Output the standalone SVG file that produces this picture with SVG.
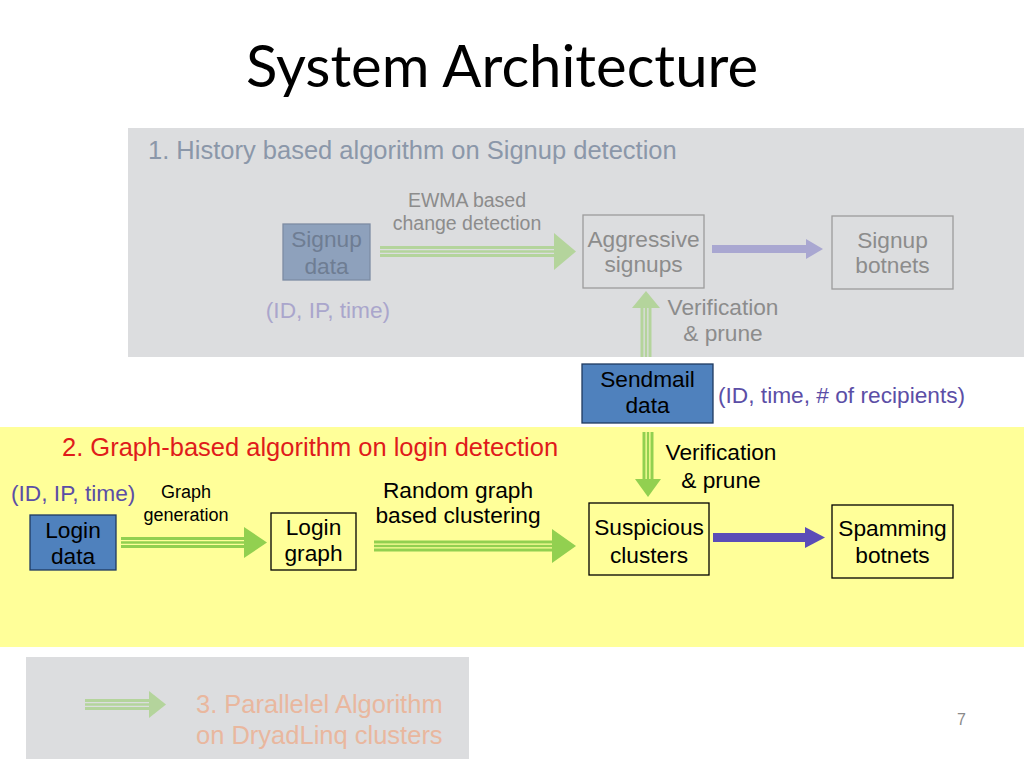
<svg xmlns="http://www.w3.org/2000/svg" width="1024" height="768" viewBox="0 0 1024 768">
<style>
text{font-family:"Liberation Sans",Arial,sans-serif;}
.t22{font-size:22.7px;}
.t25{font-size:25.5px;}
.t19{font-size:19.5px;}
.mid{text-anchor:middle;}
.fg{fill:#8c8c8c;}
.blk{fill:#000;}
.pur{fill:#5b4ea6;}
.box{fill:none;stroke:#000;stroke-width:1.3;}
.gbox{fill:none;stroke:#9c9c9c;stroke-width:1.3;}
.dbox{fill:#4f81bd;stroke:#1f3a60;stroke-width:1.3;}
.gl{stroke:#92d050;}
.gl line{stroke-width:3;}
.gl line.m{stroke-width:2.4;}
.gh{fill:#92d050;}
.fl{stroke:#b4d49c;}
.fl line{stroke-width:3;}
.fl line.m{stroke-width:2.4;}
.fh{fill:#b4d49c;}
</style>
<rect width="1024" height="768" fill="#fff"/>
<text x="502" y="87" class="mid" style="font-family:Lato,'Open Sans',sans-serif;font-size:58px;" fill="#000">System Architecture</text>

<g id="section1">
<rect x="128" y="128" width="896" height="229" fill="#dcdddf"/>
<text x="148" y="159" class="t25" fill="#8b97a9">1. History based algorithm on Signup detection</text>
</g>
<g id="section2">
<rect x="0" y="427" width="1024" height="220" fill="#ffff99"/>
<text x="62" y="456" class="t25" fill="#e01b1b">2. Graph-based algorithm on login detection</text>
</g>
<g id="section3">
<rect x="26" y="657" width="443" height="102" fill="#dcdddf"/>
<text x="196" y="713" class="t25" fill="#e9b79e">3. Parallelel Algorithm</text>
<text x="196" y="744" class="t25" fill="#e9b79e">on DryadLinq clusters</text>
</g>

<g id="connectors">
<g class="fl"><line x1="380" y1="247.5" x2="556" y2="247.5"/><line class="m" x1="380" y1="251.5" x2="556" y2="251.5"/><line x1="380" y1="255.5" x2="556" y2="255.5"/></g>
<polygon class="fh" points="554,233 576,251.5 554,270"/>
<rect x="712" y="245" width="96" height="8" fill="#a9a7d1"/>
<polygon points="806,239 823,249 806,259" fill="#a9a7d1"/>
<g class="fl"><line x1="642" y1="306" x2="642" y2="357"/><line class="m" x1="646" y1="306" x2="646" y2="357"/><line x1="650" y1="306" x2="650" y2="357"/></g>
<polygon class="fh" points="632,308 646,291 660,308"/>
<g class="gl"><line x1="644" y1="432" x2="644" y2="481"/><line class="m" x1="648" y1="432" x2="648" y2="481"/><line x1="652" y1="432" x2="652" y2="481"/></g>
<polygon class="gh" points="635,479 661,479 648,497"/>
<g class="gl"><line x1="121" y1="538.5" x2="246" y2="538.5"/><line class="m" x1="121" y1="542.5" x2="246" y2="542.5"/><line x1="121" y1="546.5" x2="246" y2="546.5"/></g>
<polygon class="gh" points="244,527 267,542.5 244,558"/>
<g class="gl"><line x1="374" y1="542" x2="554" y2="542"/><line class="m" x1="374" y1="546" x2="554" y2="546"/><line x1="374" y1="550" x2="554" y2="550"/></g>
<polygon class="gh" points="552,529 576,546 552,563"/>
<rect x="713" y="533" width="94" height="9" fill="#5b4db7"/>
<polygon points="805,527 825,537.5 805,548" fill="#5b4db7"/>
<g class="fl"><line x1="85" y1="700.5" x2="151" y2="700.5"/><line class="m" x1="85" y1="704.5" x2="151" y2="704.5"/><line x1="85" y1="708.5" x2="151" y2="708.5"/></g>
<polygon class="fh" points="149,691 166,704.5 149,718"/>
</g>

<g id="label-ewma">
<text x="467" y="207" class="t19 mid fg">EWMA based</text>
<text x="467" y="230" class="t19 mid fg">change detection</text>
</g>
<g id="label-verif1">
<text x="723" y="315" class="t22 mid fg">Verification</text>
<text x="723" y="341" class="t22 mid fg">&amp; prune</text>
</g>
<g id="label-signup-attrs">
<text x="328" y="318" class="t22 mid" fill="#aaa6cc">(ID, IP, time)</text>
</g>

<g id="node-signup-data">
<rect x="283" y="224" width="87" height="56" fill="#8ea1bc" stroke="#7d8ca3" stroke-width="1.3"/>
<text x="326.5" y="247" class="t22 mid" fill="#6e7d93">Signup</text>
<text x="326.5" y="274" class="t22 mid" fill="#6e7d93">data</text>
</g>
<g id="node-aggressive">
<rect x="583" y="215" width="121" height="73" class="gbox"/>
<text x="643.5" y="247" class="t22 mid fg">Aggressive</text>
<text x="643.5" y="272" class="t22 mid fg">signups</text>
</g>
<g id="node-signup-botnets">
<rect x="832" y="216" width="121" height="73" class="gbox"/>
<text x="892.5" y="248" class="t22 mid fg">Signup</text>
<text x="892.5" y="273" class="t22 mid fg">botnets</text>
</g>

<g id="node-sendmail">
<rect x="582" y="364" width="131" height="59" class="dbox"/>
<text x="647.5" y="387" class="t22 mid blk">Sendmail</text>
<text x="647.5" y="413" class="t22 mid blk">data</text>
</g>
<g id="label-sendmail-attrs">
<text x="718" y="403" class="t22 pur">(ID, time, # of recipients)</text>
</g>
<g id="label-verif2">
<text x="721" y="460" class="t22 mid blk">Verification</text>
<text x="721" y="488" class="t22 mid blk">&amp; prune</text>
</g>

<g id="label-login-attrs">
<text x="11" y="501" class="t22 pur">(ID, IP, time)</text>
</g>
<g id="label-graphgen">
<text x="186" y="498" class="mid blk" style="font-size:18px">Graph</text>
<text x="186" y="521" class="mid blk" style="font-size:18px">generation</text>
</g>
<g id="label-random">
<text x="458" y="498" class="t22 mid blk">Random graph</text>
<text x="458" y="523" class="t22 mid blk">based clustering</text>
</g>

<g id="node-login-data">
<rect x="30" y="515" width="86" height="55" class="dbox"/>
<text x="73" y="538" class="t22 mid blk">Login</text>
<text x="73" y="564" class="t22 mid blk">data</text>
</g>
<g id="node-login-graph">
<rect x="271" y="513" width="85" height="57" class="box"/>
<text x="313.5" y="535" class="t22 mid blk">Login</text>
<text x="313.5" y="561" class="t22 mid blk">graph</text>
</g>
<g id="node-suspicious">
<rect x="589" y="503" width="120" height="72" class="box"/>
<text x="649" y="535" class="t22 mid blk">Suspicious</text>
<text x="649" y="563" class="t22 mid blk">clusters</text>
</g>
<g id="node-spamming">
<rect x="832" y="505" width="121" height="73" class="box"/>
<text x="892.5" y="536" class="t22 mid blk">Spamming</text>
<text x="892.5" y="563" class="t22 mid blk">botnets</text>
</g>

<text x="957" y="725" style="font-size:16px" fill="#8a8a8a">7</text>
</svg>
